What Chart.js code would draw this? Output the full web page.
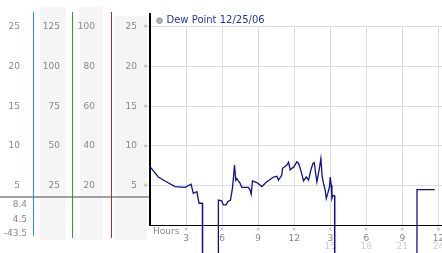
<!DOCTYPE html>
<html>
<head>
<meta charset="utf-8">
<script src="https://cdn.jsdelivr.net/npm/chart.js@4"></script>
<style>
  body { margin: 0; background: #fff; }
  #wrap { width: 442px; height: 253px; position: relative; }
</style>
</head>
<body>
<div id="wrap"><canvas id="chart"></canvas></div>
<script>
// dew point readings for 12/25/06, hours since midnight
// -43.5 is the station's dropout value, it falls off the bottom of the plot
const hours = [0, 0.69, 1.25, 2.08, 2.92, 3.42, 3.6, 3.9, 4.08, 4.36,
    4.38, 5.68, 5.69, 5.97, 6.1, 6.33, 6.47, 6.7, 6.86, 6.94,
    7.03, 7.14, 7.22, 7.5, 7.64, 8.19, 8.33, 8.42, 8.53, 8.89,
    9.31, 9.72, 10.28, 10.56, 10.69, 10.97, 11.03, 11.39, 11.53, 11.67,
    11.8, 11.94, 12.22, 12.36, 12.56, 12.78, 13.0, 13.19, 13.39, 13.56,
    13.67, 13.78, 13.89, 14.11, 14.22, 14.33, 14.44, 14.58, 14.67, 14.78,
    14.94, 15.0, 15.08, 15.14, 15.22, 15.36, 15.38, 22.2, 22.22, 23.69]
const dewPoint = [7.4, 6.1, 5.6, 4.9, 4.8, 5.2, 4.05, 4.25, 2.8, 2.8,
    -43.5, -43.5, 3.2, 3.1, 2.6, 2.6, 3.0, 3.2, 4.7, 5.9,
    7.6, 5.7, 5.9, 5.3, 4.8, 4.8, 4.45, 3.95, 5.6, 5.4,
    4.9, 5.5, 6.1, 6.2, 5.7, 6.35, 7.2, 7.6, 7.95, 7.0,
    7.2, 7.3, 8.0, 7.8, 6.9, 5.6, 6.1, 5.7, 7.0, 7.8,
    7.9, 6.6, 5.5, 7.3, 8.4, 6.1, 5.3, 4.45, 3.4, 3.95,
    4.9, 6.1, 5.1, 3.4, 3.8, 3.75, -43.5, -43.5, 4.5, 4.5]
const seriesLabel = 'Dew Point 12/25/06'

// tick values for the four left hand scales
const tempTicks = [5, 10, 15, 20, 25]
const col2Ticks = [25, 50, 75, 100, 125]
const col3Ticks = [20, 40, 60, 80, 100]

// hour ticks, 12h labels on top row, 24h labels below
const hourTicks = [3, 6, 9, 12, 15, 18, 21, 24]
const hourLabels = ['3', '6', '9', '12', '3', '6', '9', '12']
const hour24Labels = ['', '', '', '', '15', '18', '21', '24']

Chart.defaults.font.family = "'DejaVu Sans', Verdana, sans-serif"
Chart.defaults.font.size = 9
Chart.defaults.color = '#888'

const setTicks = (arr) => (scale) => { scale.ticks = arr.map(v => ({ value: v })) }
const fixWidth = (w) => (scale) => { scale.width = w }
const fixHeight = (h) => (scale) => {
    scale.height = h
    scale.paddingLeft = 0
    scale.paddingRight = 0
}

// bands, coloured rules, stats and the little tick marks
const decor = {
    id: 'decor',
    beforeDraw(chart) {
        const { ctx, scales } = chart
        ctx.save()
        ctx.fillStyle = '#f5f5f5'
        ctx.fillRect(scales.yB.left + 7, 7, scales.yB.width - 13, 233)
        ctx.fillRect(scales.yC.left + 8, 7, scales.yC.width - 16, 233)
        ctx.fillRect(scales.y.left + 4, 16, scales.y.width - 7, 224)
        ctx.restore()
    },
    afterDraw(chart) {
        const { ctx, scales, chartArea } = chart
        ctx.save()

        ctx.fillStyle = '#a0a0a0'
        ctx.fillRect(0, 196, chartArea.left - 1, 2)

        // solid 1px rules, filled so the colour stays exact
        const rule = (x, y1, y2, color, w) => {
            ctx.fillStyle = color
            ctx.fillRect(x, y1, w, y2 - y1)
        }
        rule(Math.round(scales.yA.right), 12, 236, '#1e9bd7', 1)
        rule(Math.round(scales.yB.right), 12, 238, '#2ea02e', 1)
        rule(Math.round(scales.yC.right), 12, 238, '#c02828', 1)
        rule(chartArea.left - 1, 13, chartArea.top, '#000', 2)

        // max, last and min of the series
        const stats = [Math.max(...dewPoint), dewPoint[dewPoint.length - 1], Math.min(...dewPoint)]
        ctx.font = "9px 'DejaVu Sans'"
        ctx.fillStyle = '#888'
        ctx.textAlign = 'right'
        ctx.textBaseline = 'middle'
        stats.forEach((v, i) => ctx.fillText(v.toFixed(1), 27, 205 + i * 14.2))

        ctx.textAlign = 'left'
        ctx.fillText('Hours', 153, 232)

        ctx.font = "6px 'DejaVu Sans'"
        ctx.fillStyle = '#999'
        ctx.textAlign = 'center'
        tempTicks.forEach(v => ctx.fillText('×', chartArea.left - 4.5, scales.y.getPixelForValue(v)))
        hourTicks.forEach(v => ctx.fillText('×', scales.x.getPixelForValue(v), 229.5))
        ctx.restore()
    }
}

new Chart(document.getElementById('chart'), {
    type: 'line',
    data: {
        datasets: [{
            label: seriesLabel,
            data: hours.map((h, i) => ({ x: h, y: dewPoint[i] })),
            borderColor: '#10108a',
            backgroundColor: '#b0b0b0',
            borderWidth: 1.3,
            pointRadius: 0,
            tension: 0,
            clip: false,
        }]
    },
    plugins: [decor],
    options: {
        animation: false,
        responsive: true,
        maintainAspectRatio: false,
        devicePixelRatio: 1,
        layout: { padding: { top: 8.2, left: 0, right: 0, bottom: 0 } },
        plugins: {
            tooltip: { enabled: false },
            legend: {
                position: 'top',
                align: 'start',
                fullSize: false,
                maxHeight: 18.5,
                labels: {
                    usePointStyle: true,
                    pointStyle: 'circle',
                    boxWidth: 4,
                    boxHeight: 4,
                    padding: 7.5,
                    color: '#2233aa',
                    font: { size: 10 },
                    generateLabels: (chart) => Chart.defaults.plugins.legend.labels.generateLabels(chart)
                        .map(l => Object.assign(l, { fillStyle: '#b0b0b0', strokeStyle: '#999', lineWidth: 1 })),
                },
            },
        },
        scales: {
            x: {
                type: 'linear',
                position: 'bottom',
                min: 0,
                max: 24.3,
                weight: 0,
                afterBuildTicks: setTicks(hourTicks),
                afterFit: fixHeight(16),
                grid: { color: '#dddddd', drawTicks: false },
                border: { color: '#000', width: 1 },
                ticks: { padding: 7.6, maxRotation: 0, autoSkip: false, callback: (v, i) => hourLabels[i] },
            },
            x2: {
                type: 'linear',
                position: 'bottom',
                min: 0,
                max: 24.3,
                weight: 1,
                afterBuildTicks: setTicks(hourTicks),
                afterFit: fixHeight(11.5),
                grid: { display: false, drawTicks: false },
                border: { display: false },
                ticks: { padding: 0, color: '#cccccc', maxRotation: 0, autoSkip: false, callback: (v, i) => hour24Labels[i] },
            },
            y: {
                position: 'left',
                min: 0,
                max: 25,
                weight: 0,
                afterBuildTicks: setTicks(tempTicks),
                afterFit: fixWidth(39),
                grid: { color: '#dddddd', tickLength: 3 },
                border: { color: '#000', width: 2 },
                ticks: { padding: 10 },
            },
            yC: {
                position: 'left',
                min: 0,
                max: 100,
                weight: 1,
                afterBuildTicks: setTicks(col3Ticks),
                afterFit: fixWidth(39),
                grid: { display: false, drawTicks: false },
                border: { display: false },
                ticks: { padding: 16 },
            },
            yB: {
                position: 'left',
                min: 0,
                max: 125,
                weight: 2,
                afterBuildTicks: setTicks(col2Ticks),
                afterFit: fixWidth(39),
                grid: { display: false, drawTicks: false },
                border: { display: false },
                ticks: { padding: 12 },
            },
            yA: {
                position: 'left',
                min: 0,
                max: 25,
                weight: 3,
                afterBuildTicks: setTicks(tempTicks),
                afterFit: fixWidth(33),
                grid: { display: false, drawTicks: false },
                border: { display: false },
                ticks: { padding: 13 },
            },
        },
    },
})
</script>
</body>
</html>
